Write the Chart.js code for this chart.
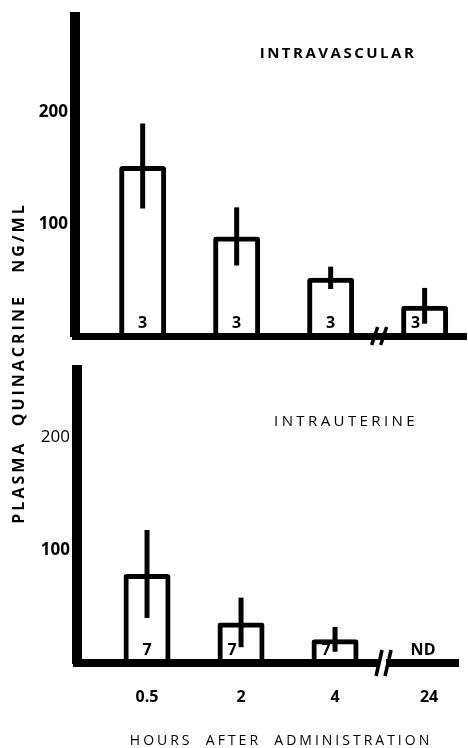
<!DOCTYPE html>
<html>
<head>
<meta charset="utf-8">
<script src="https://cdn.jsdelivr.net/npm/chart.js@4/dist/chart.umd.min.js"></script>
<style>
  body { margin: 0; background: #fff; }
  canvas { position: absolute; left: 0; top: 0; }
</style>
</head>
<body>
<canvas id="vascular" width="468" height="748"></canvas>
<canvas id="uterine" width="468" height="748"></canvas>
<script>
// Datos
var hours = ['0.5', '2', '4', '24'];
var yTicks = [100, 200];

var vascMean = [152, 89, 52, 27];
var vascErr = [38, 26, 10, 16];
var vascN = ['3', '3', '3', '3'];

var uterMean = [79, 36, 21, null];
var uterErr = [39, 22, 11, null];
var uterN = ['7', '7', '7', 'ND'];

var yTitle = 'PLASMA  QUINACRINE   NG/ML';
var xTitle = 'HOURS  AFTER  ADMINISTRATION';

var FONT = '"Open Sans", "DejaVu Sans", sans-serif';

// Plugin: barras de error, numero de casos, corte del eje y textos
var extras = {
    id: 'extras',
    afterDatasetsDraw: function (chart, args, opts) {
        var ctx = chart.ctx;
        var meta = chart.getDatasetMeta(0);
        var ys = chart.scales.y;
        var xs = chart.scales.x;
        var base = ys.getPixelForValue(0);
        ctx.save();
        ctx.fillStyle = '#000';
        ctx.strokeStyle = '#000';

        // barras de error
        ctx.lineWidth = 5;
        opts.means.forEach(function (m, i) {
            if (m == null) return;
            var x = meta.data[i].x;
            ctx.beginPath();
            ctx.moveTo(x, ys.getPixelForValue(m + opts.errs[i]));
            ctx.lineTo(x, ys.getPixelForValue(m - opts.errs[i]));
            ctx.stroke();
        });

        // numero de casos (o ND)
        ctx.font = 'bold 16px ' + FONT;
        ctx.textAlign = 'center';
        ctx.textBaseline = 'middle';
        opts.counts.forEach(function (c, i) {
            var x = xs.getPixelForValue(i);
            var y = base - 13;
            var m = opts.means[i];
            if (m != null && ys.getPixelForValue(m - opts.errs[i]) > y - 9) x -= 9;
            if (m == null) x -= 6;
            ctx.fillText(c, x, y);
        });

        // corte del eje x
        var bx = xs.getPixelForValue(2.5);
        var h = opts.breakH;
        if (opts.breakGap) {
            ctx.fillStyle = '#fff';
            ctx.fillRect(bx - 3, base - 6, 7, 12);
        }
        ctx.lineWidth = 3.5;
        [-3, 6].forEach(function (d) {
            ctx.beginPath();
            ctx.moveTo(bx + d - 3, base + h / 2);
            ctx.lineTo(bx + d + 3, base - h / 2);
            ctx.stroke();
        });

        // titulo del panel
        ctx.fillStyle = '#000';
        ctx.letterSpacing = opts.titleSpacing;
        ctx.font = opts.titleFont;
        ctx.fillText(opts.title, opts.titleX, opts.titleY);

        // titulo del eje x
        if (opts.xTitle) {
            ctx.letterSpacing = '3px';
            ctx.font = '14px ' + FONT;
            ctx.fillText(opts.xTitle, 281, 741);
        }
        // titulo del eje y (compartido)
        if (opts.yTitle) {
            ctx.letterSpacing = '3px';
            ctx.font = 'bold 16px ' + FONT;
            ctx.translate(19, 363);
            ctx.rotate(-Math.PI / 2);
            ctx.fillText(opts.yTitle, 0, 0);
        }
        ctx.restore();
    }
};

function makeChart(id, means, errs, counts, cfg) {
    return new Chart(document.getElementById(id), {
        type: 'bar',
        data: {
            datasets: [{
                data: means.map(function (v, i) { return { x: i, y: v }; }),
                backgroundColor: 'rgba(0,0,0,0)',
                borderColor: '#000',
                borderWidth: 5,
                borderRadius: 3,
                barPercentage: 0.5,
                categoryPercentage: 1
            }]
        },
        options: {
            responsive: false,
            animation: false,
            devicePixelRatio: 1,
            layout: { padding: cfg.padding },
            plugins: {
                legend: { display: false },
                tooltip: { enabled: false },
                extras: {
                    means: means, errs: errs, counts: counts,
                    breakH: cfg.breakH, breakGap: cfg.breakGap,
                    title: cfg.title, titleFont: cfg.titleFont, titleSpacing: cfg.titleSpacing,
                    titleX: cfg.titleX, titleY: cfg.titleY,
                    xTitle: cfg.xTitle, yTitle: cfg.yTitle
                }
            },
            scales: {
                x: {
                    type: 'linear',
                    offset: false,
                    min: cfg.xmin,
                    max: cfg.xmax,
                    afterFit: function (s) { s.height = cfg.xHeight; },
                    afterBuildTicks: function (s) {
                        s.ticks = hours.map(function (h, i) { return { value: i }; });
                    },
                    grid: { display: false, drawTicks: false },
                    border: { display: true, color: '#000', width: cfg.xBorder },
                    ticks: {
                        display: cfg.showHours,
                        padding: 25,
                        color: '#000',
                        maxRotation: 0,
                        autoSkip: false,
                        font: { family: FONT, size: 16, weight: 'bold' },
                        callback: function (v, i) { return hours[i]; }
                    }
                },
                y: {
                    min: 0,
                    max: cfg.ymax,
                    afterFit: function (s) { s.width = cfg.left; },
                    afterBuildTicks: function (s) {
                        s.ticks = yTicks.map(function (v) { return { value: v }; });
                    },
                    grid: { display: false, drawTicks: false },
                    border: { display: true, color: '#000', width: 10 },
                    ticks: {
                        padding: 7,
                        color: '#000',
                        font: cfg.tickFont
                    }
                }
            }
        },
        plugins: [extras]
    });
}

// Panel superior: intravascular
makeChart('vascular', vascMean, vascErr, vascN, {
    padding: { left: 0, right: 2, top: 10, bottom: 412 },
    left: 75, xmin: -0.72, xmax: 3.44, ymax: 285, xBorder: 7, xHeight: 0,
    showHours: false, breakH: 18, breakGap: false,
    title: 'INTRAVASCULAR', titleFont: 'bold 15px ' + FONT, titleSpacing: '2.5px',
    titleX: 338, titleY: 54,
    tickFont: { family: FONT, size: 17, weight: 'bold' },
    yTitle: yTitle
});

// Panel inferior: intrauterino
makeChart('uterine', uterMean, uterErr, uterN, {
    padding: { left: 0, right: 10, top: 370, bottom: 35 },
    left: 77, xmin: -0.745, xmax: 3.308, ymax: 260, xBorder: 8, xHeight: 50,
    showHours: true, breakH: 26, breakGap: true,
    title: 'INTRAUTERINE', titleFont: '15px ' + FONT, titleSpacing: '3.4px',
    titleX: 346, titleY: 422,
    tickFont: function (c) {
        return { family: FONT, size: 17, weight: c.tick && c.tick.value === 200 ? 'normal' : 'bold' };
    },
    xTitle: xTitle
});
</script>
</body>
</html>
